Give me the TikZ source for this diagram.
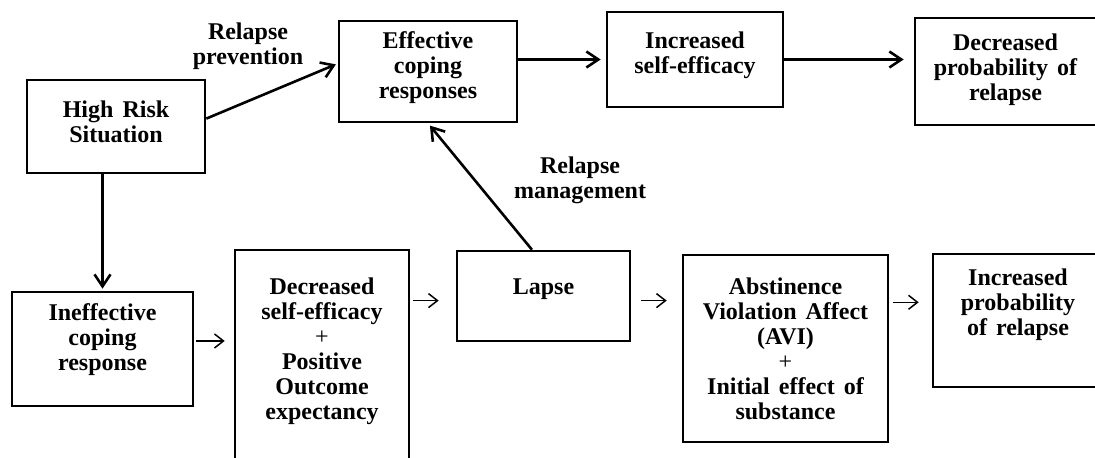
\documentclass[tikz,border=0pt]{standalone}
\usepackage{fontspec}
\setmainfont{Liberation Serif}[WordSpace=1.5]
\usetikzlibrary{arrows.meta}
\newcommand{\boxlines}[2][0pt]{\raisebox{\dimexpr#1-3pt\relax}[0pt][0pt]{\begin{tabular}{@{}c@{}}#2\end{tabular}}}

\begin{document}
\begin{tikzpicture}[x=0.5pt,y=0.5pt,
  stage/.style={draw, line width=1.3pt, inner sep=0pt, font=\fontsize{12}{12.5}\selectfont\bfseries},
  lbl/.style={align=center, inner sep=0pt, font=\fontsize{12}{12.5}\selectfont\bfseries},
  longarr/.style={line width=1.3pt, -{Straight Barb[length=6pt,width=8pt]}},
  shortarr/.style={line width=0.75pt, -{Straight Barb[length=4.5pt,width=7pt]}}]
  \useasboundingbox (0,0) rectangle (1095,457);
  \clip (0,0) rectangle (1095,457);
  \node [stage, minimum width=89pt, minimum height=46.5pt] (hrs) at (116,330.5) {\boxlines[0.75pt]{High Risk\\Situation}};
  \node [stage, minimum width=89pt, minimum height=50.5pt] (ecr) at (428,385.5) {\boxlines[1.75pt]{Effective\\coping\\responses}};
  \node [stage, minimum width=88pt, minimum height=47.5pt] (ise) at (695,397.5) {\boxlines[2pt]{Increased\\self-efficacy}};
  \node [stage, minimum width=90.5pt, minimum height=53.5pt] (dpr) at (1005.5,385.5) {\boxlines[0.75pt]{Decreased\\probability of\\relapse}};
  \node [stage, minimum width=90.5pt, minimum height=57pt] (icr) at (102.5,108) {\boxlines[4.35pt]{Ineffective\\coping\\response}};
  \node [stage, minimum width=87pt, minimum height=115pt] (dse) at (322,92) {\boxlines[6.75pt]{Decreased\\self-efficacy\\\mdseries +\\Positive\\Outcome\\expectancy}};
  \node [stage, minimum width=86.5pt, minimum height=45pt] (lapse) at (543.5,161) {\boxlines[3.5pt]{Lapse}};
  \node [stage, minimum width=102.5pt, minimum height=93.5pt] (avi) at (785.5,108.5) {\boxlines[-1.75pt]{Abstinence\\Violation Affect\\(AVI)\\\mdseries +\\Initial effect of\\substance}};
  \node [stage, minimum width=85pt, minimum height=66.5pt] (ipr) at (1018,136.5) {\boxlines[7.75pt]{Increased\\probability\\of relapse}};
  \node [lbl] (prev) at (248,411) {Relapse\\prevention};
  \node [lbl] (mgmt) at (580,277) {Relapse\\management};
  \draw [longarr, shorten >=1pt] (hrs.5) -- (ecr.175);
  \draw [longarr, shorten >=2.5pt] (ise.west -| ecr.east) -- (ise.west);
  \draw [longarr, shorten >=5pt] (ise.east) -- (ise.east -| dpr.west);
  \draw [longarr, shorten >=1pt] (icr.north |- hrs.south) -- (icr.north);
  \draw [longarr, shorten >=1.5pt] (lapse.104) -- (ecr.south);
  \draw [shortarr, shorten <=1pt, shorten >=4.5pt] (icr.5) -- (icr.5 -| dse.west);
  \draw [shortarr, shorten <=1.5pt, shorten >=8.5pt] (lapse.183 -| dse.east) -- (lapse.183);
  \draw [shortarr, shorten <=5pt, shorten >=7.5pt] (lapse.357) -- (lapse.357 -| avi.west);
  \draw [shortarr, shorten <=2pt, shorten >=6.5pt] (avi.24) -- (avi.24 -| ipr.west);
\end{tikzpicture}
\end{document}
